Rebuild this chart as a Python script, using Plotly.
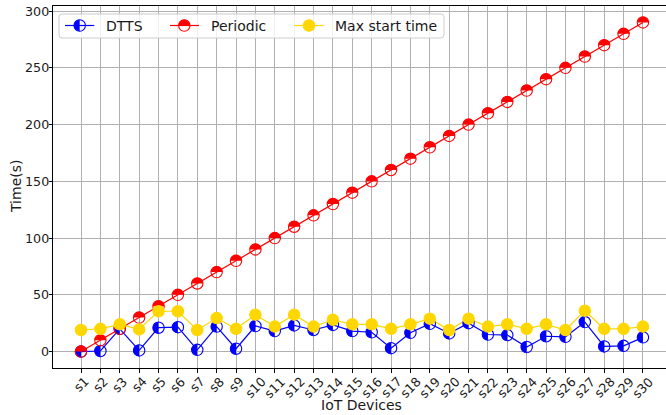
import plotly.graph_objects as go

# ---- data -------------------------------------------------------------
devices = ["s1", "s2", "s3", "s4", "s5", "s6", "s7", "s8", "s9", "s10",
           "s11", "s12", "s13", "s14", "s15", "s16", "s17", "s18", "s19", "s20",
           "s21", "s22", "s23", "s24", "s25", "s26", "s27", "s28", "s29", "s30"]

dtts = [0, 0.5, 20, 1, 21, 21.5, 1.5, 22, 2.5, 22.5,
        18, 23, 19, 23.5, 18, 17, 3, 16.5, 24.5, 16,
        25, 15, 14.5, 4, 13.5, 13, 26, 4.5, 5, 12.5]

periodic = [0, 10, 20, 30, 40, 50, 60, 70, 80, 90,
            100, 110, 120, 130, 140, 150, 160, 170, 180, 190,
            200, 210, 220, 230, 240, 250, 260, 270, 280, 290]

max_start = [19, 20, 24, 19.5, 35.5, 35.5, 19, 29.5, 20, 32.5,
             22, 32.5, 22, 28, 24, 24, 20, 24, 29, 19,
             29, 22, 24, 20, 24, 19, 36, 20, 20, 22]

y_ticks = [0, 50, 100, 150, 200, 250, 300]

series_names = ["DTTS", "Periodic", "Max start time"]
BLUE, RED, GOLD = "#0000ff", "#ff0000", "#ffd700"
FONT = "DejaVu Sans"
TXT = "#1a1a1a"
TICK_SIZE = 12.7

xpos = list(range(len(devices)))

# ---- marker geometry (pixels) -----------------------------------------
R = 5.7
K = 0.5523 * R
LEFT_HALF = (f"M 0,{R} C {-K},{R} {-R},{K} {-R},0 "
             f"C {-R},{-K} {-K},{-R} 0,{-R} Z")
TOP_HALF = (f"M {-R},0 C {-R},{K} {-K},{R} 0,{R} "
            f"C {K},{R} {R},{K} {R},0 Z")


def half_marker(xa, ya, path, color, xref="x", yref="y"):
    base = dict(xref=xref, yref=yref, xsizemode="pixel", ysizemode="pixel",
                xanchor=xa, yanchor=ya, layer="above")
    fill = dict(type="path", path=path, fillcolor=color,
                line=dict(width=0), **base)
    ring = dict(type="circle", x0=-R, x1=R, y0=-R, y1=R,
                fillcolor="rgba(0,0,0,0)", line=dict(color=color, width=1.1), **base)
    return [fill, ring]


def full_marker(xa, ya, color, xref="x", yref="y"):
    return [dict(type="circle", xref=xref, yref=yref, xsizemode="pixel",
                 ysizemode="pixel", xanchor=xa, yanchor=ya, layer="above",
                 x0=-R, x1=R, y0=-R, y1=R, fillcolor=color,
                 line=dict(color=color, width=1.1))]


def shift_path(path, dx, dy):
    out = []
    for t in path.split(" "):
        if "," in t:
            a, b = t.split(",")
            out.append(f"{float(a) + dx},{float(b) + dy}")
        else:
            out.append(t)
    return " ".join(out)


fig = go.Figure()

# connecting lines
for vals, color, name in [(dtts, BLUE, series_names[0]),
                          (periodic, RED, series_names[1]),
                          (max_start, GOLD, series_names[2])]:
    fig.add_trace(go.Scatter(x=xpos, y=vals, mode="lines", name=name,
                             line=dict(color=color, width=1.2),
                             showlegend=False, hoverinfo="x+y"))

shapes = []
for i, v in zip(xpos, dtts):
    shapes += half_marker(i, v, LEFT_HALF, BLUE)
for i, v in zip(xpos, periodic):
    shapes += half_marker(i, v, TOP_HALF, RED)
for i, v in zip(xpos, max_start):
    shapes += full_marker(i, v, GOLD)

# ---- legend box (pixel offsets from the plot's top-left corner) -------
LX0, LX1, LY0, LY1, CR = 6, 391, -8, -32, 3
legend_box = (f"M {LX0 + CR},{LY0} L {LX1 - CR},{LY0} Q {LX1},{LY0} {LX1},{LY0 - CR} "
              f"L {LX1},{LY1 + CR} Q {LX1},{LY1} {LX1 - CR},{LY1} "
              f"L {LX0 + CR},{LY1} Q {LX0},{LY1} {LX0},{LY1 + CR} "
              f"L {LX0},{LY0 - CR} Q {LX0},{LY0} {LX0 + CR},{LY0} Z")
shapes.append(dict(type="path", xref="paper", yref="paper", xsizemode="pixel",
                   ysizemode="pixel", xanchor=0, yanchor=1, path=legend_box,
                   fillcolor="rgba(255,255,255,0.8)", line=dict(color="#cccccc", width=1),
                   layer="above"))

LEG_Y = -19.5
legend_items = [(12, 41.3, 26.7, 52.7, BLUE, "left"),
                (117, 146, 131.3, 158, RED, "top"),
                (241.3, 270.7, 256, 282, GOLD, "full")]
annotations = []
for (lx0, lx1, mx, tx, color, kind), name in zip(legend_items, series_names):
    shapes.append(dict(type="line", xref="paper", yref="paper", xsizemode="pixel",
                       ysizemode="pixel", xanchor=0, yanchor=1, x0=lx0, x1=lx1,
                       y0=LEG_Y, y1=LEG_Y, line=dict(color=color, width=1.2),
                       layer="above"))
    if kind == "left":
        sh = half_marker(0, 1, LEFT_HALF, color, "paper", "paper")
    elif kind == "top":
        sh = half_marker(0, 1, TOP_HALF, color, "paper", "paper")
    else:
        sh = full_marker(0, 1, color, "paper", "paper")
    for s in sh:
        if s["type"] == "circle":
            s.update(x0=mx - R, x1=mx + R, y0=LEG_Y - R, y1=LEG_Y + R)
        else:
            s["path"] = shift_path(s["path"], mx, LEG_Y)
        shapes.append(s)
    annotations.append(dict(xref="paper", yref="paper", x=0, y=1, xanchor="left",
                            yanchor="middle", xshift=tx - 2, yshift=LEG_Y,
                            text=name, showarrow=False,
                            font=dict(family=FONT, size=14, color=TXT)))

# ---- tick labels -------------------------------------------------------
for i, lab in zip(xpos, devices):
    annotations.append(dict(x=i, xref="x", y=0, yref="paper", text=lab,
                            textangle=-45, xanchor="center", yanchor="top",
                            yshift=-3, showarrow=False,
                            font=dict(family=FONT, size=TICK_SIZE, color=TXT)))
for v in y_ticks:
    annotations.append(dict(x=0, xref="paper", y=v, yref="y", text=str(v),
                            xanchor="right", yanchor="middle", xshift=-1.7,
                            showarrow=False,
                            font=dict(family=FONT, size=TICK_SIZE, color=TXT)))

# axis titles
annotations.append(dict(x=14.5, xref="x", y=0, yref="paper", text="IoT Devices",
                        xanchor="center", yanchor="middle", yshift=-37,
                        showarrow=False, font=dict(family=FONT, size=14, color=TXT)))
annotations.append(dict(x=0, xref="paper", y=0.5, yref="paper", text="Time(s)",
                        textangle=-90, xanchor="center", yanchor="middle",
                        xshift=-37, showarrow=False,
                        font=dict(family=FONT, size=14, color=TXT)))

fig.update_layout(
    width=666, height=415,
    margin=dict(l=53, r=0, t=6, b=47),
    paper_bgcolor="white", plot_bgcolor="white",
    font=dict(family=FONT, size=TICK_SIZE, color=TXT),
    showlegend=False,
    shapes=shapes,
    annotations=annotations,
    xaxis=dict(range=[-1.445, 30.19], tickmode="array", tickvals=xpos,
               showticklabels=False, ticks="outside", ticklen=3.5, tickwidth=1,
               tickcolor="black", showline=True, linecolor="black", linewidth=1,
               mirror=True, showgrid=True, gridcolor="#b0b0b0", gridwidth=1,
               zeroline=False),
    yaxis=dict(range=[-14.5, 304.5], tickmode="array", tickvals=y_ticks,
               showticklabels=False,
               ticks="outside", ticklen=3.5, tickwidth=1, tickcolor="black",
               showline=True, linecolor="black", linewidth=1,
               showgrid=True, gridcolor="#b0b0b0", gridwidth=1, zeroline=False),
)

fig.write_html("out.html")
